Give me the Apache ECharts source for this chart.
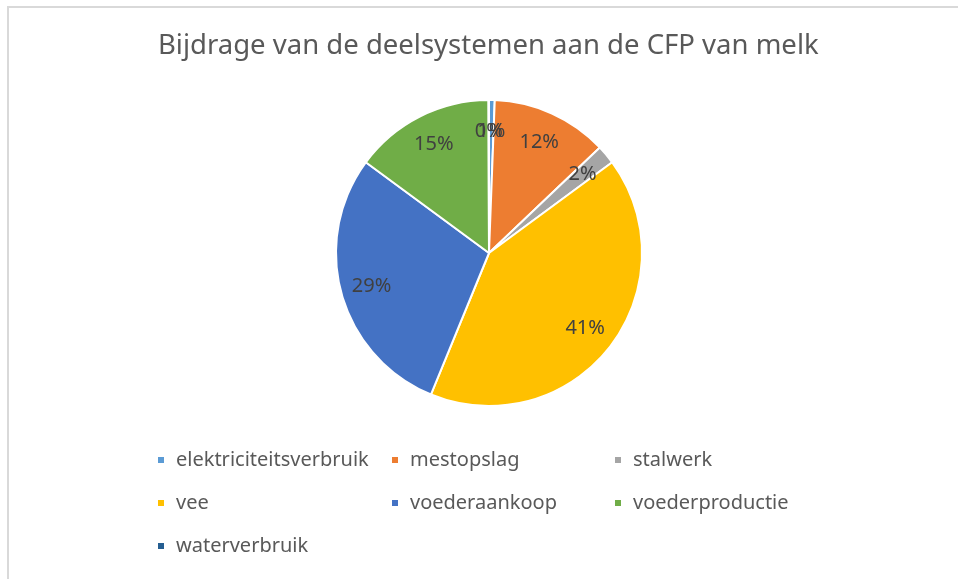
<!DOCTYPE html>
<html>
<head>
<meta charset="utf-8">
<script src="https://cdn.jsdelivr.net/npm/echarts@6/dist/echarts.min.js"></script>
<style>
  html, body { margin: 0; padding: 0; background: #fff; }
  #chart { width: 958px; height: 579px; }
</style>
</head>
<body>
<div id="chart"></div>
<script>
// Aandeel per deelsysteem in de CFP van melk (%)
const categories = [
  'elektriciteitsverbruik',
  'mestopslag',
  'stalwerk',
  'vee',
  'voederaankoop',
  'voederproductie',
  'waterverbruik'
];
const values = [0.6, 12.3, 2.0, 41.3, 28.9, 14.85, 0.05];
const colors = ['#5B9BD5', '#ED7D31', '#A5A5A5', '#FFC000', '#4472C4', '#70AD47', '#255E91'];

// Legend columns (three side-by-side blocks)
const legendCol1 = ['elektriciteitsverbruik', 'vee', 'waterverbruik'];
const legendCol2 = ['mestopslag', 'voederaankoop'];
const legendCol3 = ['stalwerk', 'voederproductie'];

const FONT = 'Noto Sans';
const sliceData = categories.map((name, i) => ({
  name: name,
  value: values[i],
  itemStyle: { color: colors[i] }
}));
// same values, invisible sectors: only used to carry the labels
const labelData = categories.map((name, i) => ({ name: name, value: values[i] }));

function legendBlock(names, left) {
  return {
    data: names,
    orient: 'vertical',
    left: left,
    top: 445,
    itemWidth: 8,
    itemHeight: 8,
    itemGap: 23,
    icon: 'rect',
    selectedMode: false,
    textStyle: {
      fontFamily: FONT,
      fontSize: 20,
      color: '#595959',
      lineHeight: 20,
      padding: [0, 0, 0, 6]
    }
  };
}

const chart = echarts.init(document.getElementById('chart'), null, { renderer: 'canvas' });
chart.setOption({
  backgroundColor: '#ffffff',
  animation: false,
  title: {
    text: 'Bijdrage van de deelsystemen aan de CFP van melk',
    left: 153,
    top: 27,
    textStyle: {
      fontFamily: FONT,
      fontSize: 27.5,
      fontWeight: 'normal',
      color: '#595959'
    }
  },
  graphic: [{
    type: 'rect',
    shape: { x: 8, y: 7, width: 980, height: 600 },
    style: { fill: 'none', stroke: '#D9D9D9', lineWidth: 2 },
    silent: true,
    z: -1
  }],
  legend: [
    legendBlock(legendCol1, 151),
    legendBlock(legendCol2, 385),
    legendBlock(legendCol3, 608)
  ],
  series: [
    {
      // slices
      type: 'pie',
      center: [489, 253],
      radius: [0, 153],
      startAngle: 90,
      clockwise: true,
      silent: true,
      data: sliceData,
      itemStyle: { borderColor: '#ffffff', borderWidth: 2 },
      label: { show: false },
      labelLine: { show: false }
    },
    {
      // percentage labels, placed at ~0.77 of the slice radius
      type: 'pie',
      center: [489, 253],
      radius: [0, 238],
      startAngle: 90,
      clockwise: true,
      silent: true,
      z: 3,
      minAngle: 0,
      minShowLabelAngle: 0,
      avoidLabelOverlap: false,
      labelLayout: { hideOverlap: false },
      data: labelData,
      itemStyle: { color: 'rgba(0,0,0,0)', borderWidth: 0 },
      label: {
        show: true,
        position: 'inside',
        fontFamily: FONT,
        fontSize: 20,
        color: '#404040',
        formatter: p => Math.round(p.percent) + '%'
      },
      labelLine: { show: false },
      emphasis: { disabled: true }
    }
  ]
});
</script>
</body>
</html>
